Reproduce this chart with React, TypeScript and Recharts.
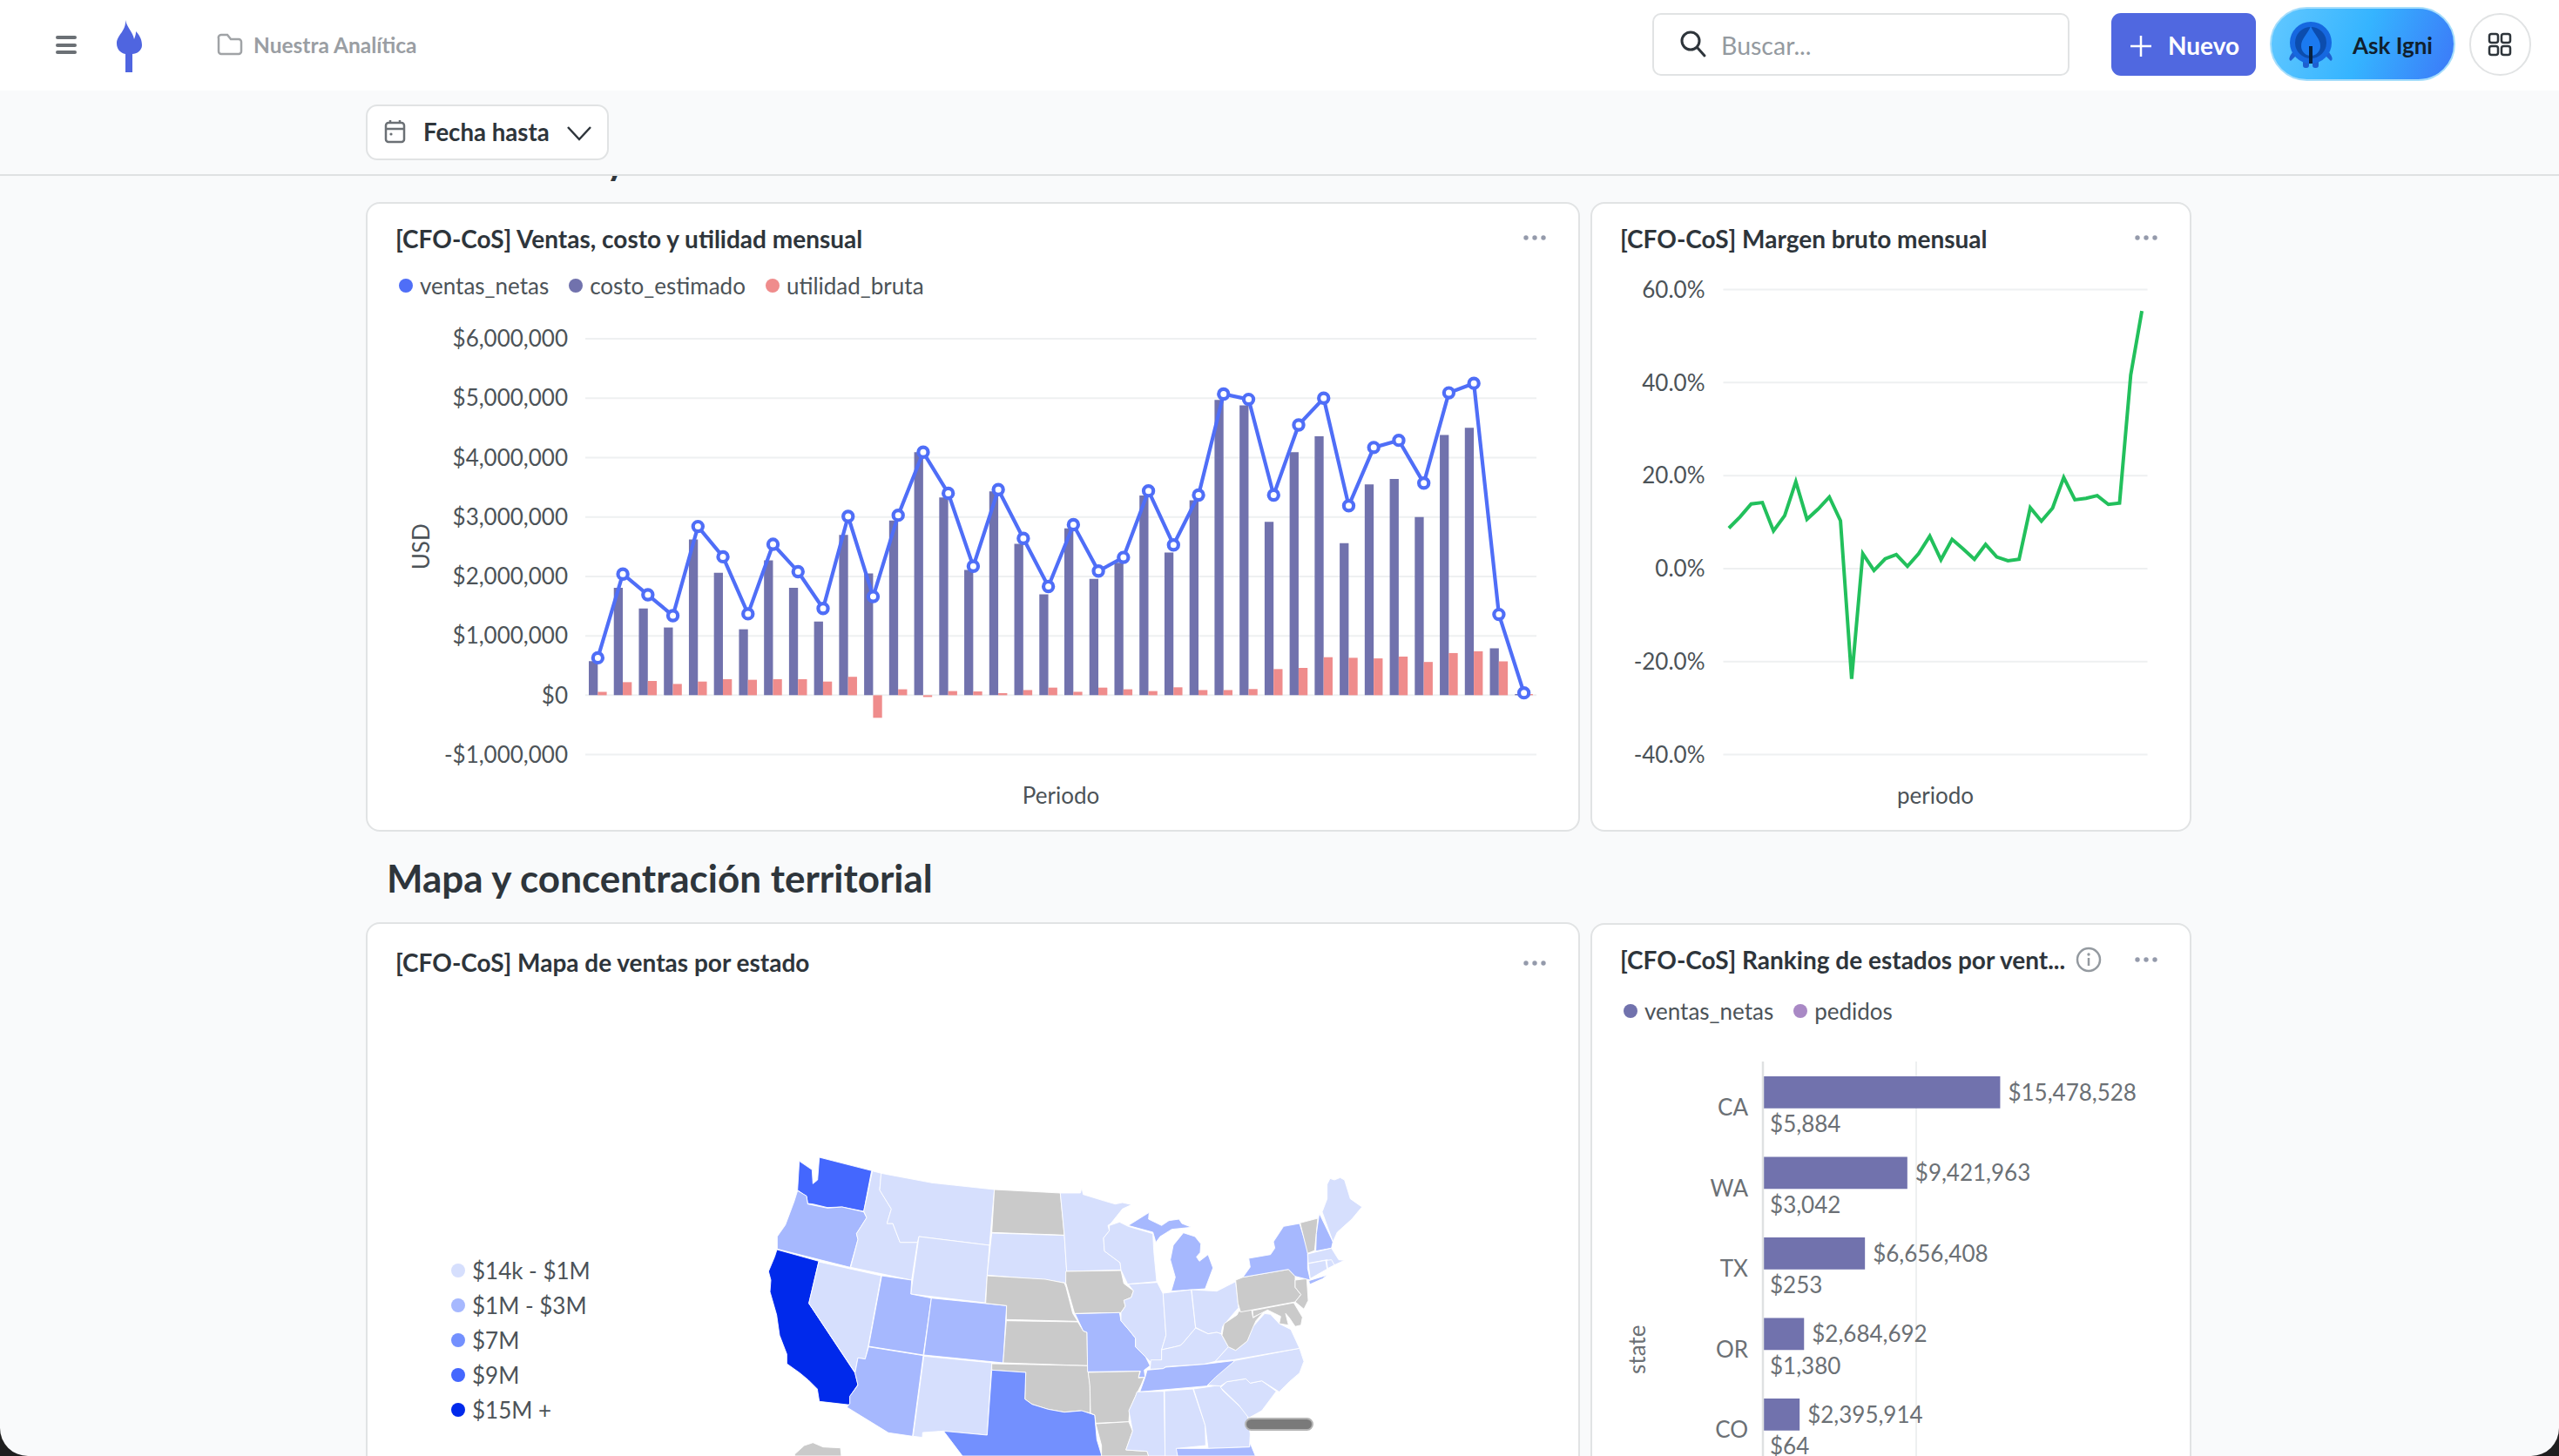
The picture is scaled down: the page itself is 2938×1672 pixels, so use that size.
import React from 'react';
import {
  ComposedChart, LineChart, BarChart, ScatterChart, Bar, Line, Scatter, XAxis, YAxis,
  CartesianGrid, LabelList,
} from 'recharts';

const PERIODOS = [
  'P01', 'P02', 'P03', 'P04', 'P05', 'P06', 'P07', 'P08', 'P09', 'P10',
  'P11', 'P12', 'P13', 'P14', 'P15', 'P16', 'P17', 'P18', 'P19', 'P20',
  'P21', 'P22', 'P23', 'P24', 'P25', 'P26', 'P27', 'P28', 'P29', 'P30',
  'P31', 'P32', 'P33', 'P34', 'P35', 'P36', 'P37', 'P38',
];

const VENTAS_NETAS = [
  630000, 2040000, 1690000, 1340000, 2840000, 2330000, 1370000, 2540000, 2080000, 1460000,
  3010000, 1660000, 3030000, 4090000, 3400000, 2170000, 3460000, 2640000, 1830000, 2870000,
  2090000, 2320000, 3440000, 2530000, 3370000, 5070000, 4980000, 3370000, 4550000, 5000000,
  3190000, 4170000, 4290000, 3570000, 5090000, 5250000, 1360000, 40000,
];
const COSTO_ESTIMADO = [
  575000, 1810000, 1460000, 1140000, 2620000, 2060000, 1110000, 2270000, 1810000, 1240000,
  2700000, 2050000, 2940000, 4090000, 3330000, 2110000, 3430000, 2550000, 1700000, 2810000,
  1960000, 2230000, 3360000, 2400000, 3280000, 4970000, 4880000, 2920000, 4090000, 4360000,
  2560000, 3550000, 3640000, 3000000, 4380000, 4500000, 790000, 20000,
];
const UTILIDAD_BRUTA = [
  57000, 220000, 240000, 190000, 230000, 270000, 260000, 270000, 270000, 230000,
  310000, -380000, 100000, -30000, 70000, 64000, 35000, 87000, 128000, 58000,
  128000, 100000, 70000, 133000, 87000, 87000, 104000, 440000, 460000, 640000,
  630000, 620000, 650000, 560000, 710000, 740000, 570000, 20000,
];
const MARGEN_BRUTO = [
  8.7, 11.1, 13.9, 14.2, 8.1, 11.4, 18.7, 10.6, 12.8, 15.4,
  10.3, -23.7, 3.2, -0.4, 2.1, 3.0, 0.5, 3.2, 7.0, 1.9,
  6.3, 4.2, 2.0, 5.2, 2.5, 1.7, 2.0, 13.1, 10.2, 13.0,
  19.6, 14.8, 15.1, 15.7, 13.8, 14.1, 41.6, 55.4,
];
const USD_TICKS = [-1000000, 0, 1000000, 2000000, 3000000, 4000000, 5000000, 6000000];
const MARGEN_TICKS = [-40, -20, 0, 20, 40, 60];

const ESTADOS = ['CA', 'WA', 'TX', 'OR', 'CO'];
const ESTADO_VENTAS = [15478528, 9421963, 6656408, 2684692, 2395914];
const ESTADO_PEDIDOS = [5884, 3042, 253, 1380, 64];

const TONOS = {
  t1: '#D6DFFD',
  t2: '#A6B8FE',
  t3: '#7390FE',
  t4: '#4467FE',
  t5: '#0029EB',
  none: '#CACACA',
};
const MAPA_LEYENDA = [
  { label: '$14k - $1M', color: TONOS.t1 },
  { label: '$1M - $3M', color: TONOS.t2 },
  { label: '$7M', color: TONOS.t3 },
  { label: '$9M', color: TONOS.t4 },
  { label: '$15M +', color: TONOS.t5 },
];

// state outlines in map units (western part of the map is x < 1056)
const WA = [[143,40],[187,70],[190,118],[206,105],[212,27],[392,73],[365,213],[290,198],[240,200],[190,188],[172,186],[168,162],[137,140]];
const OR = [[137,142],[168,160],[172,188],[240,202],[290,198],[365,215],[375,235],[340,290],[345,310],[318,406],[67,343],[67,300],[95,260],[125,180]];
const CA = [[66,345],[210,385],[176,530],[335,770],[345,810],[318,850],[317,880],[212,868],[205,825],[175,795],[145,770],[100,738],[100,705],[75,640],[65,570],[42,490],[45,450],[37,420],[58,370]];
const NV = [[210,387],[425,435],[380,680],[370,722],[345,718],[335,768],[176,530]];
const ID = [[395,74],[425,82],[420,140],[460,205],[445,255],[465,255],[490,320],[550,320],[530,450],[320,406],[345,310],[340,290],[375,235],[365,213]];
const MT = [[425,82],[600,115],[815,138],[798,330],[555,300],[550,320],[490,320],[465,255],[445,255],[460,205],[420,140]];
const WY = [[555,300],[798,330],[783,528],[527,498]];
const UT = [[427,435],[530,450],[527,498],[598,512],[570,708],[382,678]];
const CO = [[598,512],[857,538],[845,735],[572,708]];
const AZ = [[382,680],[570,710],[533,988],[450,976],[307,888],[317,875],[317,850],[345,812],[335,770],[345,718],[370,722]];
const NM = [[572,712],[806,735],[790,984],[640,970],[568,975],[567,992],[535,988]];
const ND = [[815,138],[1042,150],[1056,295],[806,286]];
const SD = [[806,288],[1056,296],[1064,420],[1060,460],[1000,450],[790,433]];
const NE = [[790,435],[990,447],[1056,460],[1062,475],[1085,565],[1102,592],[856,586],[857,538],[785,530]];
const KS = [[856,590],[1102,594],[1121,625],[1134,630],[1136,745],[845,735]];
const OK = [[806,738],[1135,745],[1144,810],[1145,908],[1110,900],[1056,905],[1000,895],[945,878],[920,860],[923,768],[806,760]];
const TX = [[806,760],[923,768],[920,860],[945,878],[1000,895],[1056,905],[1116,900],[1161,915],[1163,945],[1168,1000],[1185,1056],[705,1056],[640,970],[790,984]];
const AK = [[127,1050],[160,1020],[190,1010],[225,1025],[285,1028],[288,1056],[127,1056]];
const MN = [[1042,150],[1111,150],[1116,132],[1121,155],[1196,178],[1231,188],[1256,183],[1288,190],[1256,205],[1216,255],[1206,262],[1211,280],[1191,305],[1194,350],[1248,390],[1251,415],[1064,420],[1056,296]];
const IA = [[1061,420],[1251,417],[1261,462],[1294,487],[1286,510],[1261,520],[1266,540],[1251,562],[1091,565],[1081,530],[1061,460]];
const MO = [[1093,566],[1246,562],[1251,590],[1281,625],[1301,650],[1301,680],[1336,715],[1351,745],[1331,760],[1334,785],[1311,785],[1318,764],[1136,766],[1134,630],[1121,625]];
const AR = [[1138,768],[1316,764],[1311,787],[1331,785],[1321,810],[1301,850],[1281,895],[1278,938],[1164,943],[1161,915],[1146,908],[1144,815]];
const LA = [[1164,945],[1278,938],[1291,970],[1268,1035],[1341,1040],[1346,1056],[1184,1056],[1184,1020]];
const WI = [[1211,262],[1246,250],[1276,265],[1361,290],[1364,350],[1374,455],[1274,464],[1251,415],[1248,390],[1194,350],[1191,305],[1211,280]];
const MI_N = [[1276,262],[1348,217],[1346,240],[1391,262],[1416,245],[1451,240],[1461,255],[1494,268],[1426,275],[1386,300],[1371,320],[1361,285]];
const MI_S = [[1466,287],[1506,300],[1526,325],[1524,355],[1511,370],[1521,385],[1551,362],[1568,408],[1541,480],[1424,488],[1438,440],[1421,380],[1431,330]];
const IL = [[1276,464],[1376,458],[1396,497],[1406,640],[1391,690],[1391,725],[1356,735],[1336,715],[1301,680],[1301,650],[1281,625],[1251,590],[1251,562],[1266,540],[1261,520],[1286,510],[1294,487]];
const IN = [[1396,495],[1493,483],[1508,615],[1466,665],[1456,675],[1436,680],[1391,690],[1406,640]];
const OH = [[1494,483],[1581,488],[1646,455],[1656,545],[1626,580],[1601,610],[1596,635],[1581,630],[1551,635],[1508,613]];
const KY = [[1508,615],[1551,635],[1581,630],[1596,635],[1621,680],[1576,730],[1536,740],[1406,748],[1396,755],[1351,757],[1354,725],[1391,725],[1391,690],[1436,680],[1456,675],[1466,665]];
const TN = [[1406,750],[1536,740],[1644,727],[1621,750],[1546,815],[1316,835],[1334,785],[1341,760],[1396,755]];
const MS = [[1306,835],[1399,833],[1403,1056],[1346,1056],[1341,1040],[1268,1035],[1291,970],[1278,900],[1301,850]];
const AL = [[1401,832],[1499,825],[1541,950],[1543,1020],[1444,1030],[1446,1056],[1403,1056]];
const GA = [[1501,825],[1591,812],[1601,830],[1686,910],[1696,980],[1694,1025],[1551,1030],[1541,950]];
const FL = [[1441,1030],[1551,1030],[1694,1025],[1696,1012],[1714,1056],[1446,1056]];
const SC = [[1594,820],[1616,800],[1681,790],[1696,805],[1736,797],[1786,833],[1736,900],[1691,925],[1656,880]];
const NC = [[1549,812],[1576,785],[1644,727],[1866,685],[1881,730],[1866,770],[1831,800],[1796,835],[1736,797],[1696,805],[1681,790],[1616,800],[1594,815]];
const VA = [[1576,730],[1621,680],[1646,692],[1686,660],[1704,612],[1746,565],[1766,568],[1796,600],[1836,620],[1866,685],[1636,725]];
const WV = [[1656,558],[1701,553],[1706,580],[1746,555],[1716,590],[1706,612],[1686,660],[1646,692],[1621,680],[1599,640],[1606,600],[1651,570]];
const PA = [[1646,450],[1671,440],[1828,413],[1851,437],[1851,475],[1871,500],[1851,525],[1663,560],[1654,530]];
const MD = [[1704,555],[1846,528],[1876,578],[1871,605],[1851,610],[1831,580],[1818,565],[1828,605],[1796,600],[1801,575],[1756,553],[1706,578]];
const NJ = [[1851,450],[1891,445],[1896,520],[1881,550],[1851,525],[1871,500],[1851,475]];
const NY = [[1671,440],[1696,405],[1691,375],[1766,362],[1781,340],[1776,318],[1811,265],[1866,255],[1894,345],[1894,410],[1903,450],[1851,437],[1828,413]];
const NY_LI = [[1898,452],[1961,433],[1946,445],[1901,465]];
const VT = [[1868,253],[1929,237],[1918,348],[1894,358]];
const NH = [[1934,220],[1981,318],[1976,340],[1922,350],[1924,290]];
const ME = [[1944,215],[1961,170],[1961,120],[1971,100],[1986,105],[2006,97],[2021,105],[2041,170],[2081,198],[2046,240],[1996,285],[1981,318]];
const MA = [[1894,360],[1976,340],[2001,380],[2021,382],[1986,398],[1961,380],[1896,392]];
const CT = [[1896,393],[1956,382],[1961,412],[1903,445]];
const RI = [[1959,382],[1976,380],[1986,398],[1963,410]];

const MAPA_ESTADOS = [
  { id: 'WA', fill: TONOS.t4, outline: WA }, { id: 'OR', fill: TONOS.t2, outline: OR },
  { id: 'CA', fill: TONOS.t5, outline: CA }, { id: 'NV', fill: TONOS.t1, outline: NV },
  { id: 'ID', fill: TONOS.t1, outline: ID }, { id: 'MT', fill: TONOS.t1, outline: MT },
  { id: 'WY', fill: TONOS.t1, outline: WY }, { id: 'UT', fill: TONOS.t2, outline: UT },
  { id: 'CO', fill: TONOS.t2, outline: CO }, { id: 'AZ', fill: TONOS.t2, outline: AZ },
  { id: 'NM', fill: TONOS.t1, outline: NM }, { id: 'ND', fill: TONOS.none, outline: ND },
  { id: 'SD', fill: TONOS.t1, outline: SD }, { id: 'NE', fill: TONOS.none, outline: NE },
  { id: 'KS', fill: TONOS.none, outline: KS }, { id: 'OK', fill: TONOS.none, outline: OK },
  { id: 'TX', fill: TONOS.t3, outline: TX }, { id: 'AK', fill: TONOS.none, outline: AK },
  { id: 'MN', fill: TONOS.t1, outline: MN }, { id: 'IA', fill: TONOS.none, outline: IA },
  { id: 'MO', fill: TONOS.t2, outline: MO }, { id: 'AR', fill: TONOS.none, outline: AR },
  { id: 'LA', fill: TONOS.none, outline: LA }, { id: 'WI', fill: TONOS.t1, outline: WI },
  { id: 'MI-N', fill: TONOS.t2, outline: MI_N }, { id: 'MI-S', fill: TONOS.t2, outline: MI_S },
  { id: 'IL', fill: TONOS.t1, outline: IL }, { id: 'IN', fill: TONOS.t1, outline: IN },
  { id: 'OH', fill: TONOS.t1, outline: OH }, { id: 'KY', fill: TONOS.t1, outline: KY },
  { id: 'TN', fill: TONOS.t2, outline: TN }, { id: 'MS', fill: TONOS.t1, outline: MS },
  { id: 'AL', fill: TONOS.t1, outline: AL }, { id: 'GA', fill: TONOS.t1, outline: GA },
  { id: 'FL', fill: TONOS.t2, outline: FL }, { id: 'SC', fill: TONOS.t1, outline: SC },
  { id: 'NC', fill: TONOS.t1, outline: NC }, { id: 'VA', fill: TONOS.t1, outline: VA },
  { id: 'WV', fill: TONOS.none, outline: WV }, { id: 'PA', fill: TONOS.none, outline: PA },
  { id: 'MD', fill: TONOS.none, outline: MD }, { id: 'NJ', fill: TONOS.none, outline: NJ },
  { id: 'NY', fill: TONOS.t2, outline: NY }, { id: 'NY-LI', fill: TONOS.t2, outline: NY_LI },
  { id: 'VT', fill: TONOS.none, outline: VT }, { id: 'NH', fill: TONOS.t2, outline: NH },
  { id: 'ME', fill: TONOS.t1, outline: ME }, { id: 'MA', fill: TONOS.t1, outline: MA },
  { id: 'CT', fill: TONOS.t1, outline: CT }, { id: 'RI', fill: TONOS.t1, outline: RI },
];

const ventasRows = PERIODOS.map((periodo, i) => ({
  periodo,
  ventas_netas: VENTAS_NETAS[i],
  costo_estimado: COSTO_ESTIMADO[i],
  utilidad_bruta: UTILIDAD_BRUTA[i],
}));
const margenRows = PERIODOS.map((periodo, i) => ({ periodo, margen: MARGEN_BRUTO[i] }));
const rankingRows = ESTADOS.map((state, i) => ({
  state,
  ventas_netas: ESTADO_VENTAS[i],
  pedidos: ESTADO_PEDIDOS[i],
}));

const INK = '#2E353B';
const AXIS_TEXT = '#4C5358';
const MUTED = '#6B7075';
const GRID = '#EEF0F1';
const BORDER = '#E1E3E4';

const usd = (v: number) => `${v < 0 ? '-' : ''}$${Math.abs(v).toLocaleString('en-US')}`;

const Txt = ({ x, y, size = 26, weight = 400, color = INK, children }: any) => (
  <div style={{
    position: 'absolute', left: x, top: y, transform: 'translateY(-50%)', fontSize: size,
    fontWeight: weight, color, whiteSpace: 'nowrap', lineHeight: 1,
  }}>{children}</div>
);

const Card = ({ x, y, w, h }: any) => (
  <div style={{
    position: 'absolute', left: x, top: y, width: w, height: h, boxSizing: 'border-box',
    background: '#fff', border: `2px solid ${BORDER}`, borderRadius: 16,
  }} />
);

const Legend = ({ x, y, items, color = AXIS_TEXT }: any) => (
  <div style={{ position: 'absolute', left: x, top: y, transform: 'translateY(-50%)', display: 'flex', gap: 23 }}>
    {items.map((it: any) => (
      <div key={it.label} style={{ display: 'flex', alignItems: 'center', gap: 8, fontSize: 26, color, lineHeight: 1 }}>
        <span style={{ width: 16, height: 16, borderRadius: 8, background: it.color }} />
        {it.label}
      </div>
    ))}
  </div>
);

const Dots = ({ x, y }: any) => (
  <svg style={{ position: 'absolute', left: x - 14, top: y - 4 }} width={28} height={8}>
    {[4, 14, 24].map((cx) => <circle key={cx} cx={cx} cy={4} r={2.7} fill="#949AAB" />)}
  </svg>
);

const TopBar = () => (
  <>
    <div style={{ position: 'absolute', left: 0, top: 0, width: 2938, height: 104, background: '#fff' }} />
    <svg style={{ position: 'absolute', left: 0, top: 0 }} width={2938} height={104}>
      <g fill="#6B7075">
        <rect x={64} y={41} width={24} height={4} rx={2} />
        <rect x={64} y={50} width={24} height={4} rx={2} />
        <rect x={64} y={58} width={24} height={4} rx={2} />
      </g>
      <path d="M144 23 C146 32 152 36 154 45 C156 40 156 38 156 36 C162 42 163 48 163 52 C163 58 157 62 152 62 L152 83 L144 83 L144 62 C138 61 134 56 134 50 C134 40 145 36 144 23 Z" fill="#4F65E0" />
      <path d="M251 44 a3 3 0 0 1 3 -4 h7 l4 5 h9 a3 3 0 0 1 3 3 v11 a3 3 0 0 1 -3 3 h-20 a3 3 0 0 1 -3 -3 z" fill="none" stroke="#A0A3A6" strokeWidth={2.5} />
    </svg>
    <Txt x={291} y={52} size={24.5} weight={700} color="#9A9EA3">Nuestra Analítica</Txt>

    <div style={{
      position: 'absolute', left: 1897, top: 15, width: 479, height: 72, boxSizing: 'border-box',
      background: '#fff', border: `2.5px solid ${BORDER}`, borderRadius: 10,
    }} />
    <svg style={{ position: 'absolute', left: 1926, top: 33 }} width={36} height={36}>
      <circle cx={15} cy={14} r={10} fill="none" stroke={INK} strokeWidth={3} />
      <path d="M23 22 L31 31" stroke={INK} strokeWidth={3} strokeLinecap="round" />
    </svg>
    <Txt x={1976} y={52} size={28.5} color="#949AA0">Buscar...</Txt>

    <div style={{ position: 'absolute', left: 2424, top: 15, width: 166, height: 72, background: '#5068E0', borderRadius: 11 }} />
    <svg style={{ position: 'absolute', left: 2444, top: 39 }} width={28} height={28}>
      <path d="M14 2 V26 M2 14 H26" stroke="#fff" strokeWidth={2.5} />
    </svg>
    <Txt x={2489} y={52} size={28} weight={700} color="#fff">Nuevo</Txt>

    <div style={{
      position: 'absolute', left: 2606, top: 8, width: 213, height: 85, boxSizing: 'border-box', borderRadius: 43,
      border: '2px solid #A5DDFB', background: 'linear-gradient(110deg, #62C8FF 0%, #35B4FF 50%, #3C78F8 100%)',
    }} />
    <svg style={{ position: 'absolute', left: 2624, top: 20 }} width={58} height={60}>
      <path d="M8 40 Q2 48 6 50 L12 44 Z M50 40 Q56 48 52 50 L46 44 Z" fill="#1E5FD0" />
      <rect x={20} y={48} width={7} height={10} rx={3} fill="#1E5FD0" />
      <rect x={31} y={48} width={7} height={10} rx={3} fill="#1E5FD0" />
      <circle cx={29} cy={29} r={24} fill="#1668E0" />
      <circle cx={29} cy={29} r={18} fill="#0C4DAE" />
      <path d="M29 10 C33 20 40 24 40 33 A11 11 0 0 1 18 33 C18 24 25 20 29 10 Z" fill="#1B7AF0" />
      <rect x={27} y={33} width={4} height={20} fill="#08213F" />
    </svg>
    <Txt x={2701} y={52} size={26} weight={700} color="#10202E">Ask Igni</Txt>

    <div style={{
      position: 'absolute', left: 2835, top: 15, width: 71, height: 72, boxSizing: 'border-box',
      border: `2.5px solid ${BORDER}`, borderRadius: 36, background: '#fff',
    }} />
    <svg style={{ position: 'absolute', left: 2855, top: 36 }} width={30} height={30}>
      <g fill="none" stroke={INK} strokeWidth={2.5}>
        <rect x={3} y={3} width={10} height={10} rx={2.5} />
        <rect x={17} y={3} width={10} height={10} rx={2.5} />
        <rect x={3} y={17} width={10} height={10} rx={2.5} />
        <rect x={17} y={17} width={10} height={10} rx={2.5} />
      </g>
    </svg>
  </>
);

const FilterBar = () => (
  <>
    <div style={{ position: 'absolute', left: 0, top: 200, width: 2938, height: 2, background: '#DFE1E2' }} />
    <div style={{
      position: 'absolute', left: 420, top: 120, width: 279, height: 64, boxSizing: 'border-box',
      background: '#fff', border: `2.5px solid ${BORDER}`, borderRadius: 13,
    }} />
    <svg style={{ position: 'absolute', left: 440, top: 136 }} width={28} height={30}>
      <g fill="none" stroke="#6B7075" strokeWidth={2.5}>
        <rect x={3} y={5} width={21} height={22} rx={3} />
        <path d="M3 12 H24 M8 2 V6 M19 2 V6" />
      </g>
      <circle cx={9} cy={18} r={1.6} fill="#6B7075" />
    </svg>
    <Txt x={486} y={152} size={27.6} weight={700}>Fecha hasta</Txt>
    <svg style={{ position: 'absolute', left: 649, top: 142 }} width={32} height={22}>
      <path d="M3 4 L16 18 L29 4" fill="none" stroke={INK} strokeWidth={2.5} />
    </svg>
    <div style={{ position: 'absolute', left: 694, top: 202, width: 16, height: 6, overflow: 'hidden' }}>
      <div style={{ position: 'absolute', left: 0, top: -36, fontSize: 44, fontWeight: 700, color: INK, lineHeight: 1 }}>y</div>
    </div>
  </>
);

const VentasChart = () => (
  <div style={{ position: 'absolute', left: 421, top: 232 }}>
    <ComposedChart
      width={1392}
      height={722}
      data={ventasRows}
      barGap={0}
      barSize={10.3}
      margin={{ top: 157, right: 49, bottom: 17.4, left: 0 }}
    >
      <CartesianGrid horizontal vertical={false} stroke={GRID} strokeWidth={2} />
      <XAxis
        dataKey="periodo"
        tick={false}
        axisLine={false}
        tickLine={false}
        height={70}
        label={{ value: 'Periodo', position: 'insideBottom', offset: 14, fill: AXIS_TEXT, fontSize: 26 }}
      />
      <YAxis
        type="number"
        domain={[-1000000, 6000000]}
        ticks={USD_TICKS}
        interval={0}
        width={251}
        axisLine={false}
        tickLine={false}
        tickSize={0}
        tickMargin={20}
        tick={{ fill: AXIS_TEXT, fontSize: 26 }}
        tickFormatter={usd}
        label={{ value: 'USD', angle: -90, position: 'insideLeft', offset: 63, fill: AXIS_TEXT, fontSize: 26, style: { textAnchor: 'middle' } }}
      />
      <Bar dataKey="costo_estimado" fill="#7172AD" isAnimationActive={false} />
      <Bar dataKey="utilidad_bruta" fill="#EF8C8C" isAnimationActive={false} />
      <Line
        dataKey="ventas_netas"
        type="linear"
        stroke="#4F6EF7"
        strokeWidth={4.2}
        dot={{ r: 5.6, fill: '#fff', stroke: '#4F6EF7', strokeWidth: 4.2 }}
        isAnimationActive={false}
      />
    </ComposedChart>
  </div>
);

const MargenChart = () => (
  <div style={{ position: 'absolute', left: 1827, top: 232 }}>
    <LineChart
      width={688}
      height={722}
      data={margenRows}
      margin={{ top: 100.5, right: 49.5, bottom: 17.4, left: 0 }}
    >
      <CartesianGrid horizontal vertical={false} stroke={GRID} strokeWidth={2} />
      <XAxis
        dataKey="periodo"
        scale="band"
        tick={false}
        axisLine={false}
        tickLine={false}
        height={70}
        label={{ value: 'periodo', position: 'insideBottom', offset: 14, fill: AXIS_TEXT, fontSize: 26 }}
      />
      <YAxis
        type="number"
        domain={[-40, 60]}
        ticks={MARGEN_TICKS}
        interval={0}
        width={151.5}
        axisLine={false}
        tickLine={false}
        tickSize={0}
        tickMargin={21}
        tick={{ fill: AXIS_TEXT, fontSize: 26 }}
        tickFormatter={(v: number) => `${v.toFixed(1)}%`}
      />
      <Line dataKey="margen" type="linear" stroke="#22C05C" strokeWidth={4} dot={false} isAnimationActive={false} />
    </LineChart>
  </div>
);

const MapaChart = () => (
  <div style={{ position: 'absolute', left: 870, top: 1320 }}>
    <ScatterChart width={704} height={352} margin={{ top: 0, right: 0, bottom: 0, left: 0 }}>
      <XAxis type="number" dataKey="x" domain={[0, 2112]} hide />
      <YAxis type="number" dataKey="y" domain={[0, 1056]} reversed hide />
      {MAPA_ESTADOS.map((s) => (
        <Scatter
          key={s.id}
          name={s.id}
          data={[...s.outline, s.outline[0]].map(([x, y]) => ({ x, y }))}
          fill={s.fill}
          line={{ fill: s.fill, stroke: '#fff', strokeWidth: 0.9 }}
          shape={() => null}
          isAnimationActive={false}
        />
      ))}
    </ScatterChart>
  </div>
);

const RankingChart = () => (
  <div style={{ position: 'absolute', left: 1827, top: 1060 }}>
    <BarChart
      layout="vertical"
      width={688}
      height={640}
      data={rankingRows}
      barGap={0}
      barSize={36.7}
      margin={{ top: 159, right: 139, bottom: 11.5, left: 0 }}
    >
      <CartesianGrid horizontal={false} vertical syncWithTicks stroke={GRID} strokeWidth={2} />
      <XAxis type="number" domain={[0, 20000000]} ticks={[0, 10000000]} hide />
      <YAxis
        type="category"
        dataKey="state"
        width={197}
        padding={{ top: 7, bottom: 0 }}
        axisLine={{ stroke: '#DFE1E2', strokeWidth: 2.5 }}
        tickLine={false}
        tickSize={0}
        tickMargin={17}
        tick={{ fill: MUTED, fontSize: 26 }}
        label={{ value: 'state', angle: -90, position: 'insideLeft', offset: 53, dy: 96, fill: MUTED, fontSize: 26, style: { textAnchor: 'middle' } }}
      />
      <Bar dataKey="ventas_netas" fill="#7172AD" isAnimationActive={false}>
        <LabelList dataKey="ventas_netas" position="right" offset={9} fill={MUTED} fontSize={26} formatter={usd} />
      </Bar>
      <Bar dataKey="pedidos" fill="#A989C5" isAnimationActive={false}>
        <LabelList dataKey="pedidos" position="right" offset={8} fill={MUTED} fontSize={26} formatter={usd} />
      </Bar>
    </BarChart>
  </div>
);

export default function App() {
  return (
    <div style={{ position: 'absolute', left: 0, top: 0, width: 2938, height: 1672, overflow: 'hidden', background: '#1F1F1F' }}>
      <div style={{
        position: 'absolute', inset: 0, overflow: 'hidden', background: '#F9FAFB',
        borderRadius: '0 0 32px 32px', fontFamily: 'Lato, sans-serif',
      }}>
        <TopBar />
        <FilterBar />

        <Card x={420} y={232} w={1394} h={723} />
        <Card x={1826} y={232} w={690} h={723} />
        <Txt x={454} y={273.5} size={28} weight={700}>[CFO-CoS] Ventas, costo y utilidad mensual</Txt>
        <Txt x={1860} y={273.5} size={28} weight={700}>[CFO-CoS] Margen bruto mensual</Txt>
        <Dots x={1762} y={273} />
        <Dots x={2464} y={273} />
        <Legend
          x={458}
          y={328}
          items={[
            { label: 'ventas_netas', color: '#4F6EF7' },
            { label: 'costo_estimado', color: '#7172AD' },
            { label: 'utilidad_bruta', color: '#EF8C8C' },
          ]}
        />
        <VentasChart />
        <MargenChart />

        <Txt x={444} y={1007.5} size={44} weight={700}>Mapa y concentración territorial</Txt>

        <Card x={420} y={1059} w={1394} h={800} />
        <Card x={1826} y={1060} w={690} h={800} />
        <Txt x={454} y={1104.5} size={28} weight={700}>[CFO-CoS] Mapa de ventas por estado</Txt>
        <Txt x={1860} y={1102} size={28} weight={700}>[CFO-CoS] Ranking de estados por vent...</Txt>
        <svg style={{ position: 'absolute', left: 2382, top: 1086 }} width={32} height={32}>
          <circle cx={16} cy={16} r={13} fill="none" stroke="#949AA0" strokeWidth={2.5} />
          <path d="M16 14 V23" stroke="#949AA0" strokeWidth={2.5} />
          <circle cx={16} cy={10} r={1.7} fill="#949AA0" />
        </svg>
        <Dots x={1762} y={1106} />
        <Dots x={2464} y={1102} />
        <Legend
          x={1864}
          y={1161}
          items={[
            { label: 'ventas_netas', color: '#7172AD' },
            { label: 'pedidos', color: '#A989C5' },
          ]}
        />

        <MapaChart />
        <div style={{ position: 'absolute', left: 518, top: 1438.5, display: 'flex', flexDirection: 'column', gap: 0 }}>
          {MAPA_LEYENDA.map((it) => (
            <div key={it.label} style={{ height: 40, display: 'flex', alignItems: 'center', gap: 8, fontSize: 26, color: AXIS_TEXT, lineHeight: 1 }}>
              <span style={{ width: 16, height: 16, borderRadius: 8, background: it.color }} />
              {it.label}
            </div>
          ))}
        </div>
        <RankingChart />

        <div style={{
          position: 'absolute', left: 1429, top: 1628, width: 79, height: 15, boxSizing: 'border-box',
          background: '#7A7A7A', border: '2px solid #B4B4B4', borderRadius: 8,
        }} />
      </div>
    </div>
  );
}
